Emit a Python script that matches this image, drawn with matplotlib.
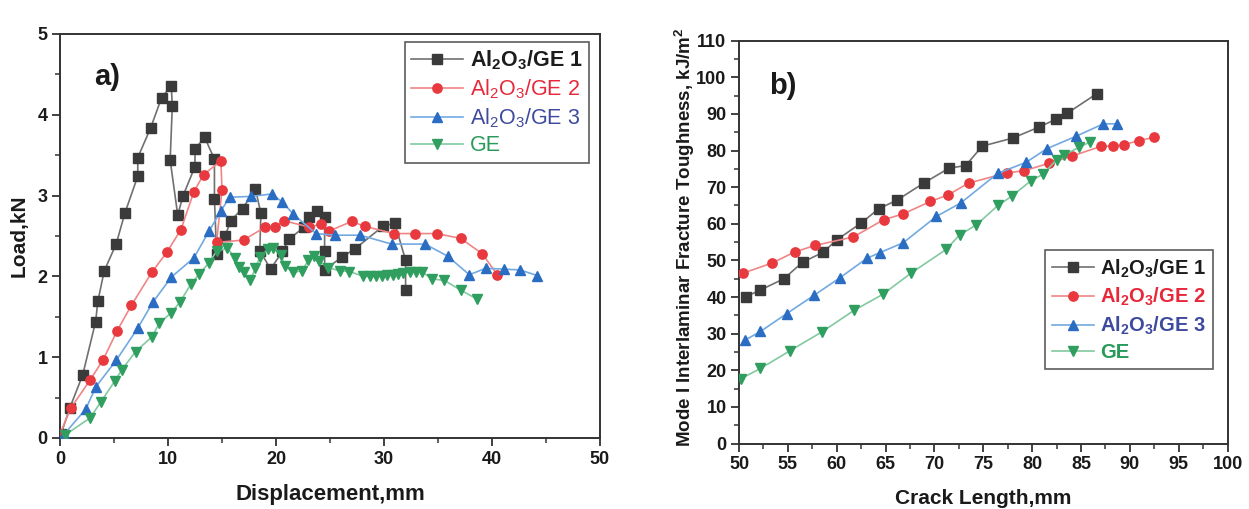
import matplotlib
matplotlib.use("Agg")
import matplotlib.pyplot as plt
from matplotlib.ticker import MultipleLocator

plt.rcParams['font.family'] = ['Liberation Sans', 'DejaVu Sans']
plt.rcParams['mathtext.fontset'] = 'custom'
plt.rcParams['mathtext.rm'] = 'Liberation Sans'
plt.rcParams['mathtext.it'] = 'Liberation Sans:italic'
plt.rcParams['mathtext.bf'] = 'Liberation Sans:bold'

# ---------------- Panel a data: Load vs Displacement ----------------
a_ge1_x = [0.1, 0.9, 2.1, 3.3, 3.5, 4.1, 5.2, 6.0, 7.2, 7.2, 8.4, 9.4, 10.3, 10.4, 10.2,
           10.9, 11.4, 12.5, 12.5, 13.4, 14.3, 14.3, 14.5, 15.3, 15.8, 16.9, 18.1, 18.6,
           18.5, 19.5, 20.6, 21.2, 22.6, 23.1, 23.8, 24.5, 24.5, 24.5, 26.1, 27.3, 29.9,
           31.0, 32.0, 32.0]
a_ge1_y = [0.05, 0.37, 0.78, 1.44, 1.69, 2.07, 2.40, 2.78, 3.24, 3.47, 3.84, 4.21, 4.36,
           4.11, 3.44, 2.76, 3.00, 3.36, 3.58, 3.72, 3.45, 2.96, 2.28, 2.50, 2.69, 2.84,
           3.08, 2.78, 2.32, 2.09, 2.31, 2.46, 2.61, 2.74, 2.81, 2.73, 2.31, 2.08, 2.24,
           2.34, 2.62, 2.66, 2.20, 1.83]

a_ge2_x = [0.0, 1.0, 2.8, 4.0, 5.3, 6.6, 8.5, 9.9, 11.2, 12.4, 13.3, 14.9, 15.0, 14.5,
           17.0, 19.0, 19.9, 20.7, 23.1, 24.2, 24.9, 27.0, 28.2, 30.9, 32.9, 34.9, 37.1,
           39.1, 40.5]
a_ge2_y = [0.05, 0.37, 0.72, 0.97, 1.33, 1.64, 2.05, 2.30, 2.58, 3.05, 3.26, 3.43, 3.07,
           2.42, 2.45, 2.61, 2.61, 2.69, 2.61, 2.65, 2.56, 2.68, 2.62, 2.53, 2.53, 2.53,
           2.47, 2.28, 2.02]

a_ge3_x = [0.4, 2.4, 3.3, 5.2, 7.2, 8.6, 10.3, 12.4, 13.8, 14.9, 15.7, 17.7, 19.6, 20.6,
           21.6, 23.7, 25.5, 27.8, 30.7, 33.8, 35.9, 37.9, 39.4, 41.1, 42.6, 44.2]
a_ge3_y = [0.05, 0.36, 0.63, 0.96, 1.36, 1.68, 1.99, 2.23, 2.56, 2.81, 2.98, 2.99, 3.02,
           2.92, 2.77, 2.53, 2.51, 2.51, 2.40, 2.40, 2.25, 2.02, 2.10, 2.09, 2.08, 2.01]

a_ge_x = [0.5, 2.8, 3.8, 5.1, 5.7, 7.0, 8.5, 9.2, 10.3, 11.1, 12.1, 12.9, 13.8, 14.5, 15.5,
          16.2, 16.6, 17.0, 17.6, 18.1, 18.5, 19.3, 19.7, 20.5, 20.8, 21.6, 22.4, 23.0,
          23.5, 24.0, 24.8, 25.9, 26.8, 28.1, 28.7, 29.3, 29.8, 30.3, 30.8, 31.3, 31.8,
          32.4, 33.0, 33.5, 34.4, 35.6, 37.1, 38.6]
a_ge_y = [0.04, 0.25, 0.45, 0.71, 0.84, 1.07, 1.25, 1.42, 1.55, 1.68, 1.90, 2.03, 2.17,
          2.31, 2.35, 2.23, 2.12, 2.05, 1.95, 2.10, 2.24, 2.34, 2.35, 2.27, 2.13, 2.05,
          2.07, 2.20, 2.25, 2.19, 2.11, 2.07, 2.06, 2.00, 2.00, 2.00, 2.01, 2.02, 2.02,
          2.03, 2.04, 2.05, 2.06, 2.06, 1.97, 1.95, 1.83, 1.72]

# ---------------- Panel b data: toughness vs crack length ----------------
b_ge1_x = [50.7, 52.1, 54.6, 56.5, 58.6, 60.0, 62.5, 64.3, 66.2, 68.9, 71.5, 73.2, 74.9,
           78.0, 80.7, 82.4, 83.6, 86.6]
b_ge1_y = [40.1, 41.8, 45.0, 49.5, 52.2, 55.6, 60.2, 64.1, 66.5, 71.1, 75.2, 75.9, 81.2,
           83.4, 86.4, 88.5, 90.2, 95.5]

b_ge2_x = [50.4, 53.4, 55.7, 57.8, 61.7, 64.8, 66.8, 69.6, 71.4, 73.5, 77.4, 79.2, 81.7,
           84.1, 87.1, 88.3, 89.4, 90.9, 92.5]
b_ge2_y = [46.5, 49.3, 52.3, 54.1, 56.4, 61.1, 62.7, 66.1, 67.9, 71.1, 73.9, 74.5, 76.5,
           78.5, 81.2, 81.2, 81.6, 82.7, 83.6]

b_ge3_x = [50.6, 52.2, 54.9, 57.7, 60.3, 63.1, 64.4, 66.8, 70.2, 72.7, 76.5, 79.4, 81.5,
           84.5, 87.3, 88.7]
b_ge3_y = [28.2, 30.6, 35.5, 40.5, 45.2, 50.6, 52.1, 54.8, 62.0, 65.7, 73.8, 76.8, 80.5,
           83.9, 87.3, 87.3]

b_ge_x = [50.2, 52.2, 55.2, 58.5, 61.8, 64.7, 67.6, 71.2, 72.6, 74.3, 76.5, 77.9, 79.9,
          81.1, 82.5, 83.3, 84.8, 85.9]
b_ge_y = [17.7, 20.5, 25.3, 30.5, 36.4, 40.7, 46.5, 53.0, 57.0, 59.7, 65.0, 67.5, 71.8,
          73.5, 77.5, 78.8, 80.9, 82.3]

labels = [r"Al$_\mathbf{2}$O$_\mathbf{3}$/GE 1", r"Al$_2$O$_3$/GE 2",
          r"Al$_2$O$_3$/GE 3", "GE"]
labels_bold = [r"Al$_\mathbf{2}$O$_\mathbf{3}$/GE 1", r"Al$_\mathbf{2}$O$_\mathbf{3}$/GE 2",
               r"Al$_\mathbf{2}$O$_\mathbf{3}$/GE 3", "GE"]

marker_colors = ['#3a3a3a', '#e8393e', '#2b6dc2', '#2f9e5f']
line_colors = ['#707070', '#f08586', '#72a9e2', '#82c9a0']
text_colors = ['#1c1c1c', '#e8283a', '#3d4a9e', '#2a9a5a']
markers = ['s', 'o', '^', 'v']
msizes = [6.5, 6.7, 7.5, 7.5]

W, H = 1249, 509
fig = plt.figure(figsize=(W / 100, H / 100), dpi=100)

ax_a = fig.add_axes([60 / W, (H - 438) / H, 540 / W, 404 / H])
ax_b = fig.add_axes([739 / W, (H - 443.5) / H, 488.5 / W, 402.8 / H])

frame_color = '#333333'
tick_fs = 13


def style(ax):
    for s in ax.spines.values():
        s.set_color(frame_color)
        s.set_linewidth(1.4)
    ax.tick_params(which='major', direction='out', length=6, width=1.3,
                   color=frame_color, labelsize=tick_fs, labelcolor='#1a1a1a',
                   top=False, right=False, pad=3)
    ax.tick_params(which='minor', direction='out', length=3.5, width=1.1,
                   color=frame_color, top=False, right=False)
    for lab in ax.get_xticklabels() + ax.get_yticklabels():
        lab.set_fontweight('bold')


series_a = [(a_ge1_x, a_ge1_y), (a_ge2_x, a_ge2_y), (a_ge3_x, a_ge3_y), (a_ge_x, a_ge_y)]
series_b = [(b_ge1_x, b_ge1_y), (b_ge2_x, b_ge2_y), (b_ge3_x, b_ge3_y), (b_ge_x, b_ge_y)]

for i, (x, y) in enumerate(series_a):
    ax_a.plot(x, y, color=line_colors[i], lw=1.2, marker=markers[i], ms=msizes[i],
              mfc=marker_colors[i], mec=marker_colors[i], label=labels[i], zorder=3 + i * 0.1)
for i, (x, y) in enumerate(series_b):
    ax_b.plot(x, y, color=line_colors[i], lw=1.2, marker=markers[i], ms=msizes[i],
              mfc=marker_colors[i], mec=marker_colors[i], label=labels_bold[i], zorder=3)

# Panel a axes
ax_a.set_xlim(0, 50)
ax_a.set_ylim(0, 5)
ax_a.xaxis.set_major_locator(MultipleLocator(10))
ax_a.xaxis.set_minor_locator(MultipleLocator(5))
ax_a.yaxis.set_major_locator(MultipleLocator(1))
ax_a.yaxis.set_minor_locator(MultipleLocator(0.5))
style(ax_a)
ax_a.set_xlabel("Displacement,mm", fontsize=16, fontweight='bold', color='#1a1a1a')
ax_a.set_ylabel("Load,kN", fontsize=15, fontweight='bold', color='#1a1a1a')
ax_a.xaxis.set_label_coords(0.5, -0.113)
ax_a.yaxis.set_label_coords(-0.058, 0.5)
ax_a.text(4.4, 4.47, "a)", fontsize=21, fontweight='bold', ha='center', va='center',
          color='#1a1a1a')

leg_a = ax_a.legend(loc='upper right', bbox_to_anchor=(0.9796, 0.980), fontsize=15.5,
                    frameon=True, fancybox=False, edgecolor='#333333', handlelength=2.4,
                    handletextpad=0.3, borderpad=0.3, labelspacing=0.25, borderaxespad=0)
leg_a.get_frame().set_linewidth(1.2)
for i, t in enumerate(leg_a.get_texts()):
    t.set_color(text_colors[i])
    if i == 0:
        t.set_fontweight('bold')

# Panel b axes
ax_b.set_xlim(50, 100)
ax_b.set_ylim(0, 110)
ax_b.xaxis.set_major_locator(MultipleLocator(5))
ax_b.xaxis.set_minor_locator(MultipleLocator(2.5))
ax_b.yaxis.set_major_locator(MultipleLocator(10))
ax_b.yaxis.set_minor_locator(MultipleLocator(5))
style(ax_b)
ax_b.set_xlabel("Crack Length,mm", fontsize=15, fontweight='bold', color='#1a1a1a')
ax_b.set_ylabel(r"Mode I Interlaminar Fracture Toughness, kJ/m$^\mathbf{2}$", fontsize=13.5,
                fontweight='bold', color='#1a1a1a')
ax_b.xaxis.set_label_coords(0.5, -0.113)
ax_b.yaxis.set_label_coords(-0.085, 0.511)
ax_b.text(54.5, 97.6, "b)", fontsize=21, fontweight='bold', ha='center', va='center',
          color='#1a1a1a')

leg_b = ax_b.legend(loc='upper left', bbox_to_anchor=(0.626, 0.480), fontsize=14.5,
                    frameon=True, fancybox=False, edgecolor='#333333', handlelength=2.1,
                    handletextpad=0.3, borderpad=0.35, labelspacing=0.32, borderaxespad=0)
leg_b.get_frame().set_linewidth(1.2)
for i, t in enumerate(leg_b.get_texts()):
    t.set_color(text_colors[i])
    t.set_fontweight('bold')

fig.savefig("out.png", dpi=100)
